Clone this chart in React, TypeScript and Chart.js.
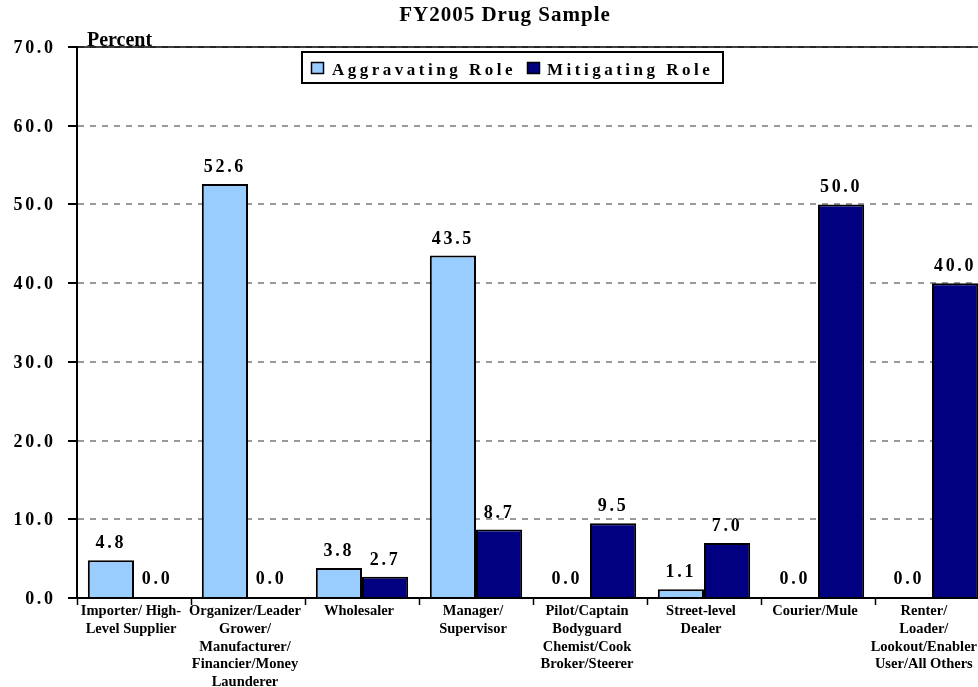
import React, { useEffect, useRef } from 'react';
import { Chart, registerables } from 'chart.js';

Chart.register(...registerables);

const categories: string[][] = [
  ['Importer/ High-', 'Level Supplier'],
  ['Organizer/Leader', 'Grower/', 'Manufacturer/', 'Financier/Money', 'Launderer'],
  ['Wholesaler'],
  ['Manager/', 'Supervisor'],
  ['Pilot/Captain', 'Bodyguard', 'Chemist/Cook', 'Broker/Steerer'],
  ['Street-level', 'Dealer'],
  ['Courier/Mule'],
  ['Renter/', 'Loader/', 'Lookout/Enabler', 'User/All Others'],
];
const aggravating = [4.8, 52.6, 3.8, 43.5, 0.0, 1.1, 0.0, 0.0];
const mitigating = [0.0, 0.0, 2.7, 8.7, 9.5, 7.0, 50.0, 40.0];
const yTickValues = [0, 10, 20, 30, 40, 50, 60, 70];
const seriesNames = ['Aggravating Role', 'Mitigating Role'];
const titleText = 'FY2005 Drug Sample';
const yAxisLabel = 'Percent';

const LIGHT = '#99CCFF';
const NAVY = '#000080';
const SERIF = '"Liberation Serif", "Times New Roman", serif';

const overlayPlugin = {
  id: 'overlay',
  afterDraw(chart: any) {
    const { ctx, chartArea, scales } = chart;
    const y = scales.y;
    const x = scales.x;
    ctx.save();

    // top border (solid)
    ctx.strokeStyle = '#000';
    ctx.lineWidth = 1.5;
    ctx.beginPath();
    ctx.moveTo(chartArea.left - 9, chartArea.top);
    ctx.lineTo(chartArea.right, chartArea.top);
    ctx.stroke();

    // title
    ctx.fillStyle = '#000';
    ctx.font = `bold 21px ${SERIF}`;
    ctx.textAlign = 'center';
    ctx.textBaseline = 'alphabetic';
    (ctx as any).letterSpacing = '1px';
    ctx.fillText(titleText, 505, 21);

    // Percent label
    (ctx as any).letterSpacing = '0px';
    ctx.font = `bold 20px ${SERIF}`;
    ctx.textAlign = 'left';
    ctx.fillText(yAxisLabel, 87, 46);

    // x category labels
    ctx.font = `bold 14.5px ${SERIF}`;
    ctx.textAlign = 'center';
    categories.forEach((lines, i) => {
      let cx = x.getPixelForTick(i) - 3;
      const maxW = Math.max(...lines.map((l) => ctx.measureText(l).width));
      if (cx + maxW / 2 > 977) cx = 977 - maxW / 2;
      lines.forEach((line, k) => {
        ctx.fillText(line, cx, chartArea.bottom + 17 + k * 17.8);
      });
    });

    // y tick labels
    ctx.font = `bold 18px ${SERIF}`;
    (ctx as any).letterSpacing = '2.6px';
    ctx.textAlign = 'right';
    yTickValues.forEach((v) => {
      ctx.fillText(v.toFixed(1), 55.5, y.getPixelForValue(v) + 6);
    });

    // data labels
    ctx.font = `bold 18px ${SERIF}`;
    (ctx as any).letterSpacing = '2.7px';
    ctx.textAlign = 'center';
    chart.data.datasets.forEach((ds: any, di: number) => {
      const meta = chart.getDatasetMeta(di);
      meta.data.forEach((el: any, i: number) => {
        const v = ds.data[i];
        ctx.fillText(v.toFixed(1), el.x, Math.min(el.y - 12, chartArea.bottom - 14));
      });
    });

    // legend
    ctx.lineWidth = 2;
    ctx.strokeStyle = '#000';
    ctx.fillStyle = '#fff';
    ctx.fillRect(302, 52, 421, 31);
    ctx.strokeRect(302, 52, 421, 31);
    const items = [
      { color: LIGHT, x: 311, tx: 332 },
      { color: NAVY, x: 527, tx: 547 },
    ];
    ctx.font = `bold 17px ${SERIF}`;
    (ctx as any).letterSpacing = '3.5px';
    ctx.textAlign = 'left';
    items.forEach((it, i) => {
      ctx.fillStyle = it.color;
      ctx.fillRect(it.x, 62, 13, 12);
      ctx.lineWidth = 1.5;
      ctx.strokeRect(it.x + 0.5, 62.5, 12, 11);
      ctx.fillStyle = '#000';
      ctx.fillText(seriesNames[i], it.tx, 75);
    });

    ctx.restore();
  },
};

export default function App() {
  const ref = useRef<HTMLCanvasElement | null>(null);

  useEffect(() => {
    if (!ref.current) return;
    const chart = new Chart(ref.current, {
      type: 'bar',
      data: {
        labels: categories,
        datasets: [
          {
            label: seriesNames[0],
            data: aggravating,
            backgroundColor: LIGHT,
            borderColor: '#000',
            borderWidth: 2,
            categoryPercentage: 0.81,
            barPercentage: 1.0,
          },
          {
            label: seriesNames[1],
            data: mitigating,
            backgroundColor: NAVY,
            borderColor: '#000',
            borderWidth: 2,
            categoryPercentage: 0.81,
            barPercentage: 1.0,
          },
        ],
      },
      options: {
        animation: false,
        responsive: false,
        maintainAspectRatio: false,
        layout: { padding: { top: 47, right: 3, left: 0, bottom: 0 } },
        plugins: {
          legend: { display: false },
          title: { display: false },
          tooltip: { enabled: false },
        },
        scales: {
          x: {
            grid: {
              display: true,
              drawOnChartArea: false,
              drawTicks: true,
              tickLength: 7,
              tickColor: '#000',
              tickWidth: 1.5,
              offset: true,
            },
            border: { display: true, color: '#000', width: 2 },
            ticks: { display: false, autoSkip: false },
            afterFit: (scale: any) => {
              scale.height = 89;
            },
          },
          y: {
            min: 0,
            max: 70,
            ticks: { stepSize: 10, display: false },
            grid: {
              color: '#9a9a9a',
              lineWidth: 2,
              drawTicks: true,
              tickLength: 9,
              tickColor: '#000',
              tickWidth: 2,
            },
            border: { display: true, color: '#000', width: 2, dash: [6, 6] },
            afterFit: (scale: any) => {
              scale.width = 77;
            },
          },
        },
      },
      plugins: [overlayPlugin],
    } as any);
    return () => chart.destroy();
  }, []);

  return (
    <div
      style={{
        position: 'fixed',
        left: 0,
        top: 0,
        width: 978,
        height: 687,
        overflow: 'hidden',
        background: '#fff',
      }}
    >
      <canvas ref={ref} width={992} height={687} style={{ width: 992, height: 687, display: 'block' }} />
    </div>
  );
}
